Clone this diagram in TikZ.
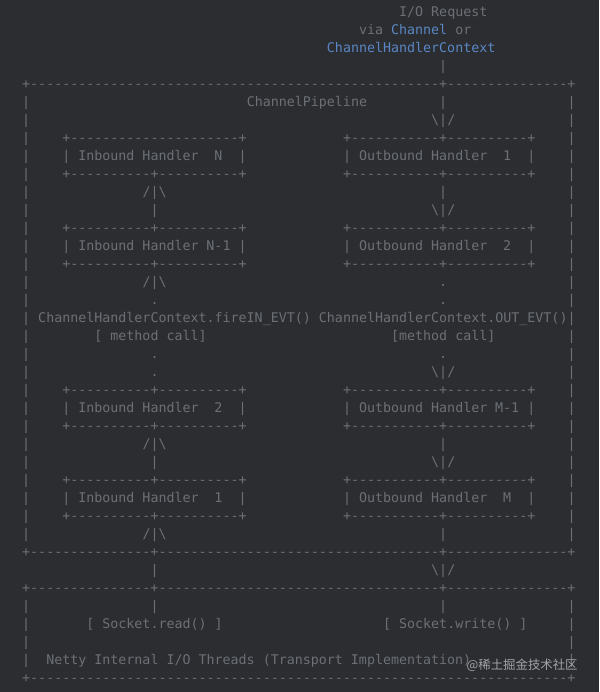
\documentclass[tikz,border=0pt]{standalone}
\usepackage{fontspec}
\setmonofont{DejaVu Sans Mono}
\newfontfamily\cjkfont{Noto Sans CJK SC}

\definecolor{bg}{HTML}{2B2D30}
\definecolor{ink}{HTML}{6C7076}
\definecolor{linkblue}{HTML}{5A87C4}
\definecolor{mark}{HTML}{A0A3A8}

% one row of dashes, one character per loop step
\newcommand\dashes[1]{\foreach\k in {1,...,#1}{-}}
\newcommand\bsl{\textbackslash}

\tikzset{
  art/.style={inner sep=0pt, anchor=base west, text=ink,
    font=\ttfamily\fontsize{13.32}{18}\selectfont},
  artc/.style={art, anchor=base}
}

\begin{document}
\begin{tikzpicture}[x=8.02pt, y=-18pt]
\fill[bg] (-22pt,-1.5pt) rectangle (577pt,-693.5pt);
\useasboundingbox (-22pt,-1.5pt) rectangle (577pt,-693.5pt);

% request coming in
\node[art] (req) at (47,1) {I/O Request};
\node[art] (via) at (42,2) {via \textcolor{linkblue}{Channel} or};
\node[art, text=linkblue] (ctx) at (38,3) {ChannelHandlerContext};
\node[art] (reqbar) at (52,4) {|};

% pipeline frame
\node[art] (pipetop) at (0,5) {+\dashes{51}+\dashes{15}+};
\node[art] (pipeline) at (28,6) {ChannelPipeline};
\node[art] (reqbar2) at (52,6) {|};
\node[art] (reqarr) at (51,7) {\bsl|/};
\foreach \r in {6,...,30} {
 \node[art] (pl\r) at (0,\r) {|};
 \node[art] (pr\r) at (68,\r) {|};
}
\node[art] (pipebot) at (0,31) {+\dashes{15}+\dashes{35}+\dashes{15}+};

% handler boxes
\foreach \r/\inl/\outl [count=\i] in {8/N/1, 13/N-1/2, 22/2/M-1, 27/1/M} {
 \ifnum\i=1
  \node[art] (intop\i) at (5,\r) {+\dashes{21}+};
 \else
  \node[art] (intop\i) at (5,\r) {+\dashes{10}+\dashes{10}+};
 \fi
 \node[art] (inl\i) at (5,\r+1) {| Inbound Handler};
 \node[artc] (inlab\i) at (24.5,\r+1) {\inl};
 \node[art] (inr\i) at (27,\r+1) {|};
 \node[art] (inbot\i) at (5,\r+2) {+\dashes{10}+\dashes{10}+};
 \node[art] (outtop\i) at (40,\r) {+\dashes{11}+\dashes{10}+};
 \node[art] (outl\i) at (40,\r+1) {| Outbound Handler};
 \node[artc] (outlab\i) at (60.5,\r+1) {\outl};
 \node[art] (outr\i) at (63,\r+1) {|};
 \node[art] (outbot\i) at (40,\r+2) {+\dashes{11}+\dashes{10}+};
}

% links between handlers
\foreach \r in {11,25} {
 \node[art] (inup\r) at (15,\r) {/|\bsl};
 \node[art] (inbar\r) at (16,\r+1) {|};
 \node[art] (outbar\r) at (52,\r) {|};
 \node[art] (outdn\r) at (51,\r+1) {\bsl|/};
}
\node[art] (inup16) at (15,16) {/|\bsl};
\node[art] (indot17) at (16,17) {.};
\node[art] (outdot16) at (52,16) {.};
\node[art] (outdot17) at (52,17) {.};
\node[art] (fire) at (2,18) {ChannelHandlerContext.fireIN\_EVT()};
\node[art] (outevt) at (37,18) {ChannelHandlerContext.OUT\_EVT()};
\node[art] (incall) at (9,19) {[ method call]};
\node[art] (outcall) at (46,19) {[method call]};
\node[art] (indot20) at (16,20) {.};
\node[art] (outdot20) at (52,20) {.};
\node[art] (indot21) at (16,21) {.};
\node[art] (outdn21) at (51,21) {\bsl|/};
\node[art] (inup30) at (15,30) {/|\bsl};
\node[art] (outbar30) at (52,30) {|};

% transport
\node[art] (inbar32) at (16,32) {|};
\node[art] (outdn32) at (51,32) {\bsl|/};
\node[art] (iotop) at (0,33) {+\dashes{15}+\dashes{35}+\dashes{15}+};
\foreach \r in {34,...,37} {
 \node[art] (tl\r) at (0,\r) {|};
 \node[art] (tr\r) at (68,\r) {|};
}
\node[art] (inbar34) at (16,34) {|};
\node[art] (outbar34) at (52,34) {|};
\node[art] (read) at (8,35) {[ Socket.read() ]};
\node[art] (write) at (45,35) {[ Socket.write() ]};
\node[art] (netty) at (3,37) {Netty Internal I/O Threads (Transport Implementation)};
\node[art] (iobot) at (0,38) {+\dashes{67}+};

\node[inner sep=0pt, anchor=west, text=mark, font=\cjkfont\fontsize{12.4}{14}\selectfont]
  (wmark) at (444.5pt,-666.5pt) {@稀土掘金技术社区};
\end{tikzpicture}
\end{document}
